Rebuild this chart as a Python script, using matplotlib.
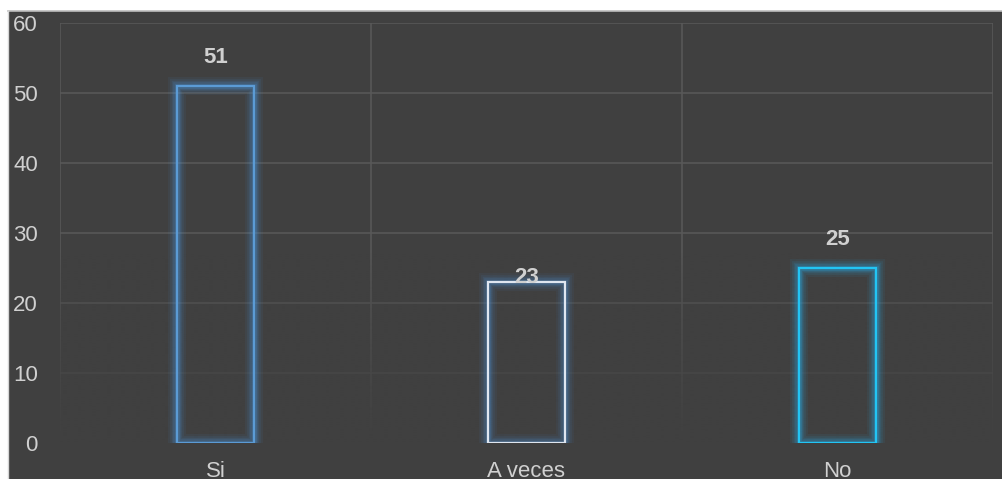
import numpy as np
import matplotlib.pyplot as plt
from matplotlib.patches import Rectangle

plt.rcParams['font.family'] = ['Liberation Sans', 'DejaVu Sans']

categories = ['Si', 'A veces', 'No']
counts = [51, 23, 25]
y_ticks = [0, 10, 20, 30, 40, 50, 60]

edge_colors = ['#5b9bd5', '#dfe6f0', '#22c5f4']
glow_colors = ['#4a8fd0', '#4a85c0', '#2aa5e0']
label_offsets = [13, -4, 13]  # points above the bar top

BG = '#404040'
GRID = '#585858'
TEXT = '#d0d0d0'


def glow_bar(ax, x, height, width, edge, glow):
    # soft halo: stacked wide, faint outlines under the crisp edge
    for lw, a in [(13, 0.07), (10, 0.09), (7.5, 0.12), (5.5, 0.16), (3.5, 0.22)]:
        ax.bar(x, height, width, facecolor='none', edgecolor=glow,
               linewidth=lw, alpha=a, zorder=3)
    ax.bar(x, height, width, facecolor='none', edgecolor=edge,
           linewidth=1.6, zorder=4)


fig = plt.figure(figsize=(10.03, 4.79), dpi=100)
fig.patch.set_facecolor('white')

# dark card behind the plot
W, H = 1003, 479
card = Rectangle((8 / W, 0), 1 - 8 / W, 1 - 11 / H, transform=fig.transFigure,
                 facecolor=BG, edgecolor='none', zorder=-5)
fig.add_artist(card)
fig.add_artist(plt.Line2D([8 / W, 1], [1 - 11 / H, 1 - 11 / H], transform=fig.transFigure,
                          color='#bdbdbd', lw=1.2, zorder=-4))
fig.add_artist(plt.Line2D([8 / W, 8 / W], [0, 1 - 11 / H], transform=fig.transFigure,
                          color='#d6d6d6', lw=1.0, zorder=-4))

ax = fig.add_axes([60 / W, 36 / H, (993 - 60) / W, (443 - 23) / H])
ax.patch.set_alpha(0)

x = np.arange(len(categories))

# grid lines
for yv in y_ticks[1:]:
    ax.axhline(yv, color=GRID, lw=1.2, zorder=1)
for xv in [-0.5, 0.5, 1.5, 2.5]:
    ax.axvline(xv, color=GRID, lw=1.2, zorder=1)

# fade the grid out toward the baseline (image row 0 is the top)
fade = np.clip((np.linspace(0, 1, 200) - 0.55) / 0.45, 0, 1) ** 0.8
rgba = np.zeros((200, 1, 4))
rgba[:, 0, :3] = np.array([0x40, 0x40, 0x40]) / 255
rgba[:, 0, 3] = fade
ax.imshow(rgba, extent=(-0.5, 2.5, 0, 60), aspect='auto', origin='upper',
          zorder=2, interpolation='bilinear')
ax.set_xlim(-0.5, len(categories) - 0.5)
ax.set_ylim(0, 60)

for xi, v, ec, gc, off in zip(x, counts, edge_colors, glow_colors, label_offsets):
    glow_bar(ax, xi, v, 0.245, ec, gc)
    ax.annotate(str(v), (xi, v), xytext=(0, off), textcoords='offset points',
                ha='center', va='bottom', fontsize=16, fontweight='bold',
                color=TEXT, zorder=5)

ax.set_xticks(x)
ax.set_xticklabels(categories)
ax.set_yticks(y_ticks)
ax.tick_params(axis='both', length=0, colors=TEXT, labelsize=16)
ax.tick_params(axis='y', pad=16)
ax.tick_params(axis='x', pad=13)
for s in ax.spines.values():
    s.set_visible(False)

fig.savefig('out.png', dpi=100)
